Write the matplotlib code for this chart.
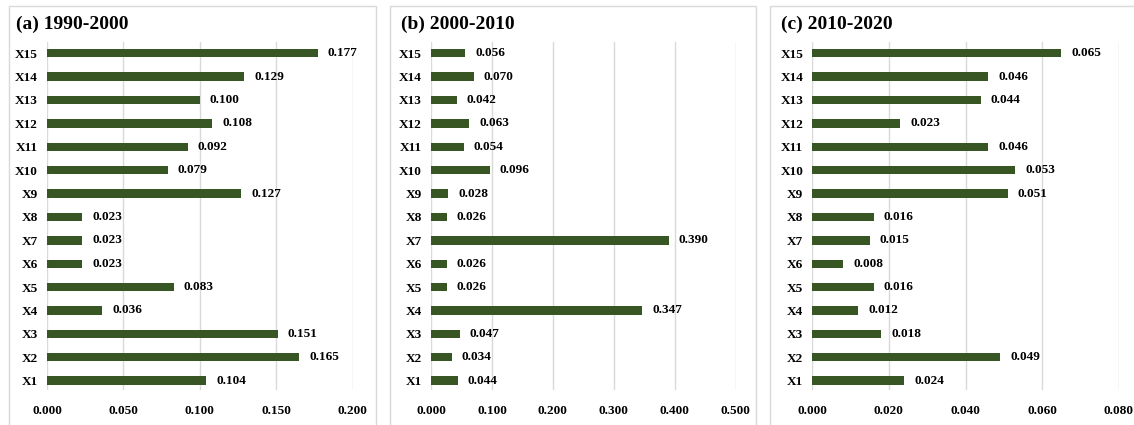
import matplotlib
matplotlib.use("Agg")
import matplotlib.pyplot as plt
from matplotlib.patches import Rectangle

# Factor labels (bottom to top)
factors = [f"X{i}" for i in range(1, 16)]

# Contribution values per period, X1..X15
vals_1990_2000 = [0.104, 0.165, 0.151, 0.036, 0.083, 0.023, 0.023, 0.023,
                  0.127, 0.079, 0.092, 0.108, 0.100, 0.129, 0.177]
vals_2000_2010 = [0.044, 0.034, 0.047, 0.347, 0.026, 0.026, 0.390, 0.026,
                  0.028, 0.096, 0.054, 0.063, 0.042, 0.070, 0.056]
vals_2010_2020 = [0.024, 0.049, 0.018, 0.012, 0.016, 0.008, 0.015, 0.016,
                  0.051, 0.053, 0.046, 0.023, 0.044, 0.046, 0.065]

titles = ["(a) 1990-2000", "(b) 2000-2010", "(c) 2010-2020"]
xticks_a = [0.0, 0.05, 0.10, 0.15, 0.20]
xticks_b = [0.0, 0.1, 0.2, 0.3, 0.4, 0.5]
xticks_c = [0.0, 0.02, 0.04, 0.06, 0.08]

plt.rcParams["font.family"] = ["Liberation Serif", "DejaVu Serif"]
plt.rcParams["font.weight"] = "bold"

W, H = 1134, 425
fig = plt.figure(figsize=(W / 100, H / 100), dpi=100)

BAR_COLOR = "#375623"
GRID_COLOR = "#d9d9d9"
LABEL_SIZE = 9.5

def px_to_fig(x0, x1):
    return x0 / W, (x1 - x0) / W

ax_bottom = (H - 390) / H
ax_height = (390 - 42) / H

panels = [
    dict(vals=vals_1990_2000, ticks=xticks_a, px=(47, 352.7), title_x=16,
         box=(9, 375.7)),
    dict(vals=vals_2000_2010, ticks=xticks_b, px=(431, 735.7), title_x=400.7,
         box=(390, 755.7)),
    dict(vals=vals_2010_2020, ticks=xticks_c, px=(812.3, 1118.7), title_x=780.7,
         box=(770, 1140)),
]

ypos = list(range(1, 16))

for p, title in zip(panels, titles):
    # light panel frame
    bx0, bx1 = p["box"]
    fig.patches.append(Rectangle((bx0 / W, -0.05), (bx1 - bx0) / W, (H - 6) / H + 0.05,
                                 transform=fig.transFigure, fill=False,
                                 edgecolor=GRID_COLOR, linewidth=1.0, zorder=0))

    left, width = px_to_fig(*p["px"])
    ax = fig.add_axes([left, ax_bottom, width, ax_height])
    ax.barh(ypos, p["vals"], height=0.36, color=BAR_COLOR, zorder=3)
    ax.set_xlim(p["ticks"][0], p["ticks"][-1])
    ax.set_ylim(0.6, 15.48)
    ax.set_xticks(p["ticks"])
    ax.set_xticklabels([f"{t:.3f}" for t in p["ticks"]], fontsize=LABEL_SIZE,
                       fontweight="bold")
    ax.set_yticks(ypos)
    ax.set_yticklabels(factors, fontsize=LABEL_SIZE, fontweight="bold")
    ax.tick_params(axis="both", length=0)
    ax.tick_params(axis="x", pad=11)
    ax.tick_params(axis="y", pad=6.5)
    ax.grid(axis="x", color=GRID_COLOR, linewidth=1.0, zorder=0)
    ax.set_axisbelow(True)
    for s in ax.spines.values():
        s.set_visible(False)
    ax.patch.set_alpha(0)

    span = p["ticks"][-1] - p["ticks"][0]
    for y, v in zip(ypos, p["vals"]):
        ax.text(v + span * 0.033, y, f"{v:.3f}", va="center", ha="left",
                fontsize=LABEL_SIZE, fontweight="bold", clip_on=False)

    fig.text(p["title_x"] / W, (H - 29) / H, title, fontsize=14,
             fontweight="bold", ha="left", va="baseline")

fig.savefig("out.png", dpi=100)
